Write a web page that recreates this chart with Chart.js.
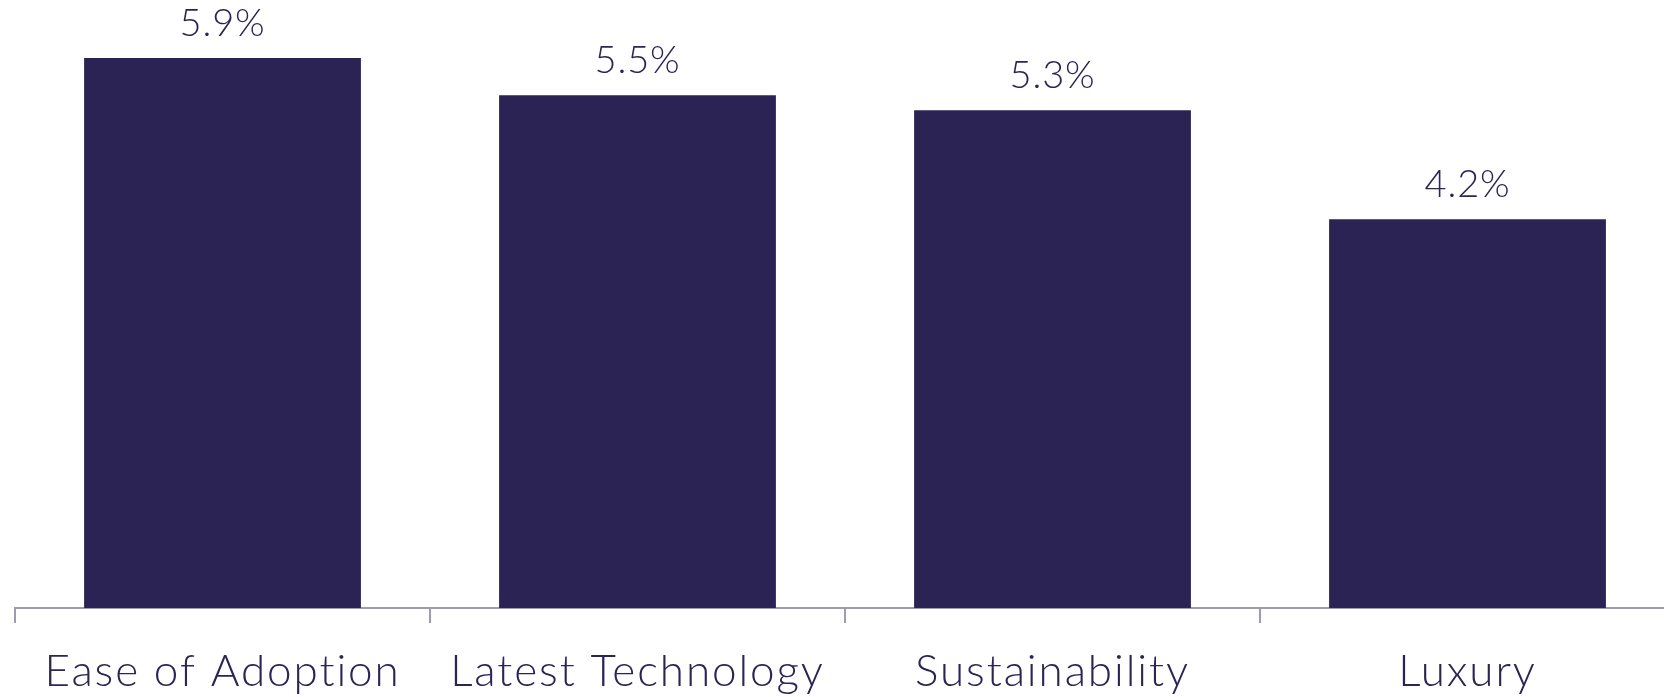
<!DOCTYPE html>
<html>
<head>
<meta charset="utf-8">
<script src="https://cdn.jsdelivr.net/npm/chart.js@4.4.1/dist/chart.umd.min.js"></script>
<style>
html,body{margin:0;padding:0;background:#fff;overflow:hidden;width:1664px;height:697px;}
canvas{display:block;}
</style>
</head>
<body>
<canvas id="c" width="1680" height="697"></canvas>
<script>
const categories = ["Ease of Adoption", "Latest Technology", "Sustainability", "Luxury"];
const values = [5.9, 5.5, 5.34, 4.17];
const valueLabels = ["5.9%", "5.5%", "5.3%", "4.2%"];

const textColor = '#2B2454';
const barColor = '#2B2353';
const FONT = "Lato, 'Open Sans', sans-serif";

const spacingPlugin = {
  id: 'spacing',
  beforeDraw(chart) { chart.ctx.letterSpacing = '1.9px'; },
  afterDraw(chart) { chart.ctx.letterSpacing = '0px'; }
};

const valueLabelPlugin = {
  id: 'valueLabels',
  afterDatasetsDraw(chart) {
    const ctx = chart.ctx;
    const meta = chart.getDatasetMeta(0);
    ctx.save();
    ctx.letterSpacing = '0.8px';
    ctx.fillStyle = textColor;
    ctx.font = "300 38px " + FONT;
    ctx.textAlign = 'center';
    ctx.textBaseline = 'alphabetic';
    meta.data.forEach((bar, i) => {
      ctx.fillText(valueLabels[i], bar.x, bar.y - 22);
    });
    ctx.restore();
  }
};

new Chart(document.getElementById('c'), {
  type: 'bar',
  data: {
    labels: categories,
    datasets: [{
      data: values,
      backgroundColor: barColor,
      borderWidth: 0,
      categoryPercentage: 0.667,
      barPercentage: 1.0
    }]
  },
  options: {
    responsive: false,
    animation: false,
    layout: { padding: { left: 15, right: 5, top: 2, bottom: 0 } },
    plugins: { legend: { display: false }, tooltip: { enabled: false } },
    scales: {
      y: { display: false, min: 0, max: 6.5 },
      x: {
        offset: true,
        border: { display: true, color: '#9E9CAB', width: 2 },
        grid: { display: true, drawOnChartArea: false, drawTicks: true, tickLength: 15, offset: true, color: '#9E9CAB', lineWidth: 2 },
        ticks: { color: textColor, font: { family: FONT, size: 44, weight: '300' }, padding: 22, maxRotation: 0, autoSkip: false },
        afterFit(scale) { scale.height = 89; }
      }
    }
  },
  plugins: [spacingPlugin, valueLabelPlugin]
});
</script>
</body>
</html>
